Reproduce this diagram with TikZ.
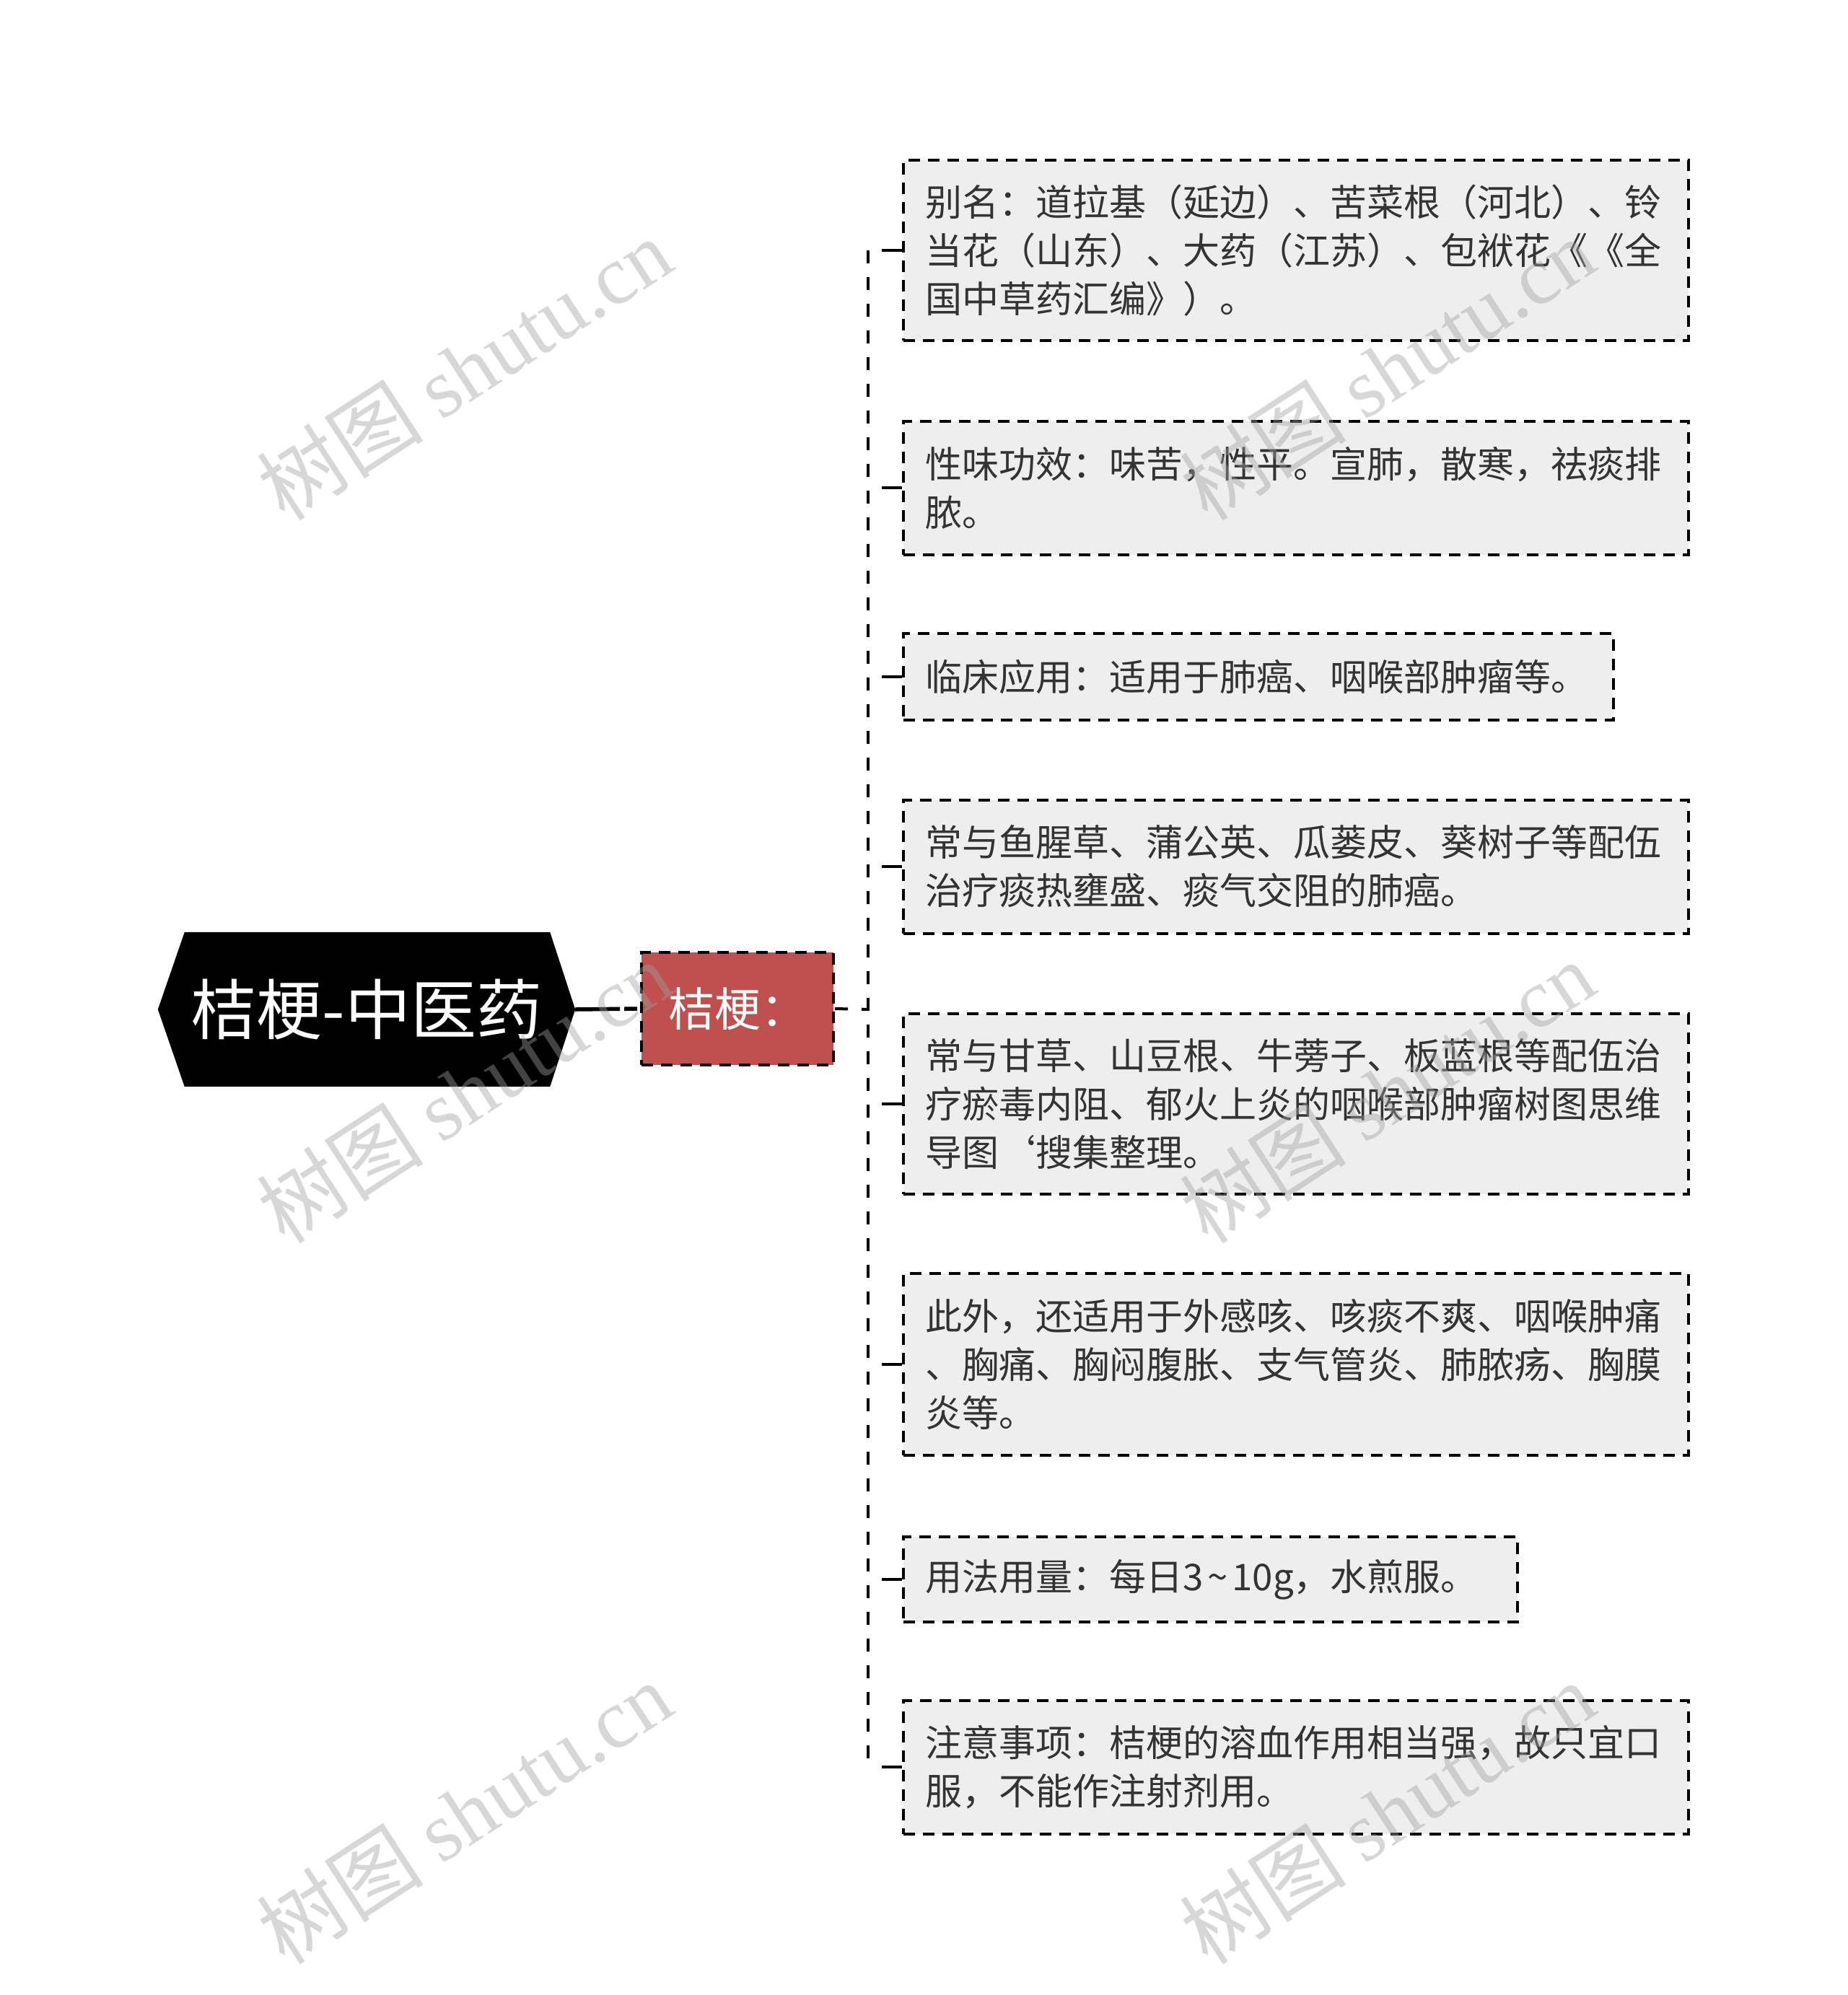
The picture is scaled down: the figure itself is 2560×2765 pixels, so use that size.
\documentclass[tikz,border=0pt]{standalone}
\usepackage{fontspec}
\setmainfont{Noto Sans CJK SC}
\newfontfamily\wmlat{Liberation Serif}
\newfontfamily\wmcjk{Noto Sans CJK SC}
\usetikzlibrary{backgrounds}
\definecolor{leafgray}{HTML}{EEEEEE}
\definecolor{txtgray}{HTML}{333333}
\definecolor{subred}{HTML}{C0504D}
\definecolor{wmgray}{HTML}{A0A0A0}
\tikzset{
  leaf/.style={draw=black, line width=4pt, dash pattern=on 16pt off 11pt, fill=leafgray,
    anchor=west, inner xsep=30pt, inner ysep=0pt, align=left, text=txtgray,
    font=\fontsize{51}{67}\selectfont},
  rootnode/.style={minimum width=578pt, minimum height=214pt, inner sep=0pt, text=white,
    font=\fontsize{91}{100}\selectfont},
  subnode/.style={draw=black, line width=4pt, dash pattern=on 16pt off 11pt, fill=subred,
    minimum width=266pt, minimum height=156pt, inner sep=0pt, text=white,
    font=\fontsize{64}{72}\selectfont},
  rootline/.style={line width=5.5pt, dash pattern=on 62pt off 6pt on 18pt off 100pt},
  trunkline/.style={line width=4pt, dash pattern=on 18pt off 19pt},
  stubline/.style={line width=4pt, dash pattern=on 28pt off 40pt},
  wm/.style={text=wmgray, opacity=0.42, rotate=33, font=\fontsize{116}{120}\selectfont},
}
\begin{document}
\begin{tikzpicture}[x=1pt, y=-1pt]
\useasboundingbox (0,0) rectangle (2560,2765);

% root
\node[rootnode] (root) at (508,1399) {桔梗-中医药};
\begin{scope}[on background layer]
\fill[white] (0,0) rectangle (2560,2765);
\fill[black] (root.west) -- ([xshift=37pt]root.north west) -- ([xshift=-35pt]root.north east)
  -- (root.east) -- ([xshift=-35pt]root.south east) -- ([xshift=37pt]root.south west) -- cycle;
\end{scope}

% sub
\node[subnode] (sub) at (1022,1398) {桔梗：};

% leaves
\node[leaf, minimum width=1088pt, minimum height=250pt, text width=1028pt] (l1) at (1250,347)
  {别名：道拉基（延边）、苦菜根（河北）、铃\\当花（山东）、大药（江苏）、包袱花《《全\\国中草药汇编》）。};
\node[leaf, minimum width=1088pt, minimum height=185pt, text width=1028pt] (l2) at (1250,676)
  {性味功效：味苦，性平。宣肺，散寒，祛痰排\\脓。};
\node[leaf, minimum width=984pt, minimum height=120pt, text width=924pt] (l3) at (1250,938)
  {临床应用：适用于肺癌、咽喉部肿瘤等。};
\node[leaf, minimum width=1088pt, minimum height=185pt, text width=1028pt] (l4) at (1250,1201)
  {常与鱼腥草、蒲公英、瓜蒌皮、葵树子等配伍\\治疗痰热壅盛、痰气交阻的肺癌。};
\node[leaf, minimum width=1088pt, minimum height=250pt, text width=1028pt] (l5) at (1250,1530)
  {常与甘草、山豆根、牛蒡子、板蓝根等配伍治\\疗瘀毒内阻、郁火上炎的咽喉部肿瘤树图思维\\导图{\char96}搜集整理。};
\node[leaf, minimum width=1088pt, minimum height=252pt, text width=1028pt] (l6) at (1250,1891)
  {此外，还适用于外感咳、咳痰不爽、咽喉肿痛\\、胸痛、胸闷腹胀、支气管炎、肺脓疡、胸膜\\炎等。};
\node[leaf, minimum width=851pt, minimum height=118pt, text width=791pt] (l7) at (1250,2189)
  {用法用量：每日3\kern6pt\char126\kern6pt 10g，水煎服。};
\node[leaf, minimum width=1088pt, minimum height=185pt, text width=1028pt] (l8) at (1250,2449)
  {注意事项：桔梗的溶血作用相当强，故只宜口\\服，不能作注射剂用。};

% connectors
\draw[rootline] (root.east) -- (sub.west);
\coordinate (tk) at (1203,1399);
\draw[trunkline] (sub.east) -- (tk);
\draw[trunkline] (tk |- l1.west) -- (tk |- l8.west);
\foreach \n in {l1,l2,l3,l4,l5,l6,l7,l8}{
  \draw[stubline] (\n.west) -- (tk |- \n.west);
}

% watermarks
\foreach \p in {(643,511),(643,1513),(643,2512),(1922,511),(1922,1513),(1922,2512)}{
  \node[wm] at \p {{\wmcjk 树图} {\wmlat shutu.cn}};
}
\end{tikzpicture}
\end{document}
